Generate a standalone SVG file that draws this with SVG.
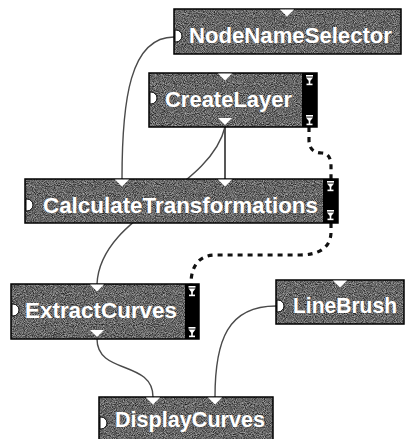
<svg xmlns="http://www.w3.org/2000/svg" width="406" height="439" viewBox="0 0 406 439">
  <defs>
    <!-- grainy grey fill for node bodies -->
    <filter id="grain" x="0" y="0" width="100%" height="100%" filterUnits="objectBoundingBox" color-interpolation-filters="sRGB">
      <feTurbulence type="fractalNoise" baseFrequency="1.1" numOctaves="1" seed="7" result="n"/>
      <feColorMatrix in="n" type="matrix" values="1 0 0 0 -0.1  1 0 0 0 -0.1  1 0 0 0 -0.1  0 0 0 0 1" result="g"/>
      <feComposite in="g" in2="SourceGraphic" operator="in"/>
    </filter>
    <!-- downward port triangle -->
    <path id="tri" d="M-7,0 L7,0 L0,7 Z"/>
    <!-- input port on the left edge -->
    <path id="port" d="M0,-6 h1 a6,6 0 0 1 0,12 h-1 z"/>
    <!-- output icon in the black side strip -->
    <g id="out">
      <rect x="-3.5" y="0" width="7" height="1.6"/>
      <path d="M-3.5,2.6 L3.5,2.6 L0,7 Z"/>
      <rect x="-0.8" y="6" width="1.6" height="3"/>
      <rect x="-3" y="8.6" width="6" height="1.6"/>
    </g>
  </defs>
  <style>
    .body { fill: #5e5e5e; filter: url(#grain); }
    .frame { fill: none; stroke: #000; stroke-width: 1.5; }
    .strip { fill: #000; }
    .tri, .port, .out { fill: #fff; }
    .port { stroke: #000; stroke-width: 1; }
    .label { font-family: "Liberation Sans", Arial, sans-serif; font-weight: bold; font-size: 22px; fill: #fff; }
    .wire { fill: none; stroke: #4a4a4a; stroke-width: 1.4; }
    .wire.solid { stroke: #111; }
    .dash { fill: none; stroke: #111; stroke-width: 3.2; stroke-dasharray: 5 5; }
  </style>

  <rect width="406" height="439" fill="#fff"/>

  <g id="connectors">
    <path class="wire" d="M174,37 C130,37 122,100 122,179"/>
    <path class="wire solid" d="M225,127 L225,179"/>
    <path class="wire" d="M225,127 C210,190 100,215 97,284"/>
    <path class="wire" d="M97,339 C97,375 153,360 153,397"/>
    <path class="wire" d="M276,306 C228,306 215,340 215,397"/>
    <path class="dash" d="M309,127 L309,140 C309,150 315,153 322,153 C328,153 331,158 331,166 L331,179"/>
    <path class="dash" d="M331,223 L331,232 C331,248 318,255 300,255 L215,255 C200,255 191,265 191,284"/>
  </g>

  <g id="NodeNameSelector">
    <rect class="body" x="174" y="9" width="227" height="45"/>
    <rect class="frame" x="174" y="9" width="227" height="45"/>
    <use href="#tri" class="tri" x="287" y="9.5"/>
    <use href="#port" class="port" x="175" y="36"/>
    <text class="label" x="189" y="43" textLength="203" lengthAdjust="spacingAndGlyphs">NodeNameSelector</text>
  </g>

  <g id="CreateLayer">
    <rect class="body" x="149" y="73" width="153" height="54"/>
    <rect class="strip" x="302" y="73" width="15" height="54"/>
    <rect class="frame" x="149" y="73" width="168" height="54"/>
    <use href="#tri" class="tri" x="225" y="73.5"/>
    <use href="#tri" class="tri" x="225" y="118"/>
    <use href="#port" class="port" x="150" y="98"/>
    <use href="#out" class="out" x="309.5" y="75"/>
    <use href="#out" class="out" x="309.5" y="115"/>
    <text class="label" x="165" y="107" textLength="127" lengthAdjust="spacingAndGlyphs">CreateLayer</text>
  </g>

  <g id="CalculateTransformations">
    <rect class="body" x="25" y="179" width="298" height="44"/>
    <rect class="strip" x="323" y="179" width="15" height="44"/>
    <rect class="frame" x="25" y="179" width="313" height="44"/>
    <use href="#tri" class="tri" x="122" y="179.5"/>
    <use href="#tri" class="tri" x="225" y="179.5"/>
    <use href="#port" class="port" x="26" y="205"/>
    <use href="#out" class="out" x="330.5" y="181"/>
    <use href="#out" class="out" x="330.5" y="210"/>
    <text class="label" x="43" y="213" textLength="275" lengthAdjust="spacingAndGlyphs">CalculateTransformations</text>
  </g>

  <g id="ExtractCurves">
    <rect class="body" x="11" y="284" width="174" height="55"/>
    <rect class="strip" x="185" y="284" width="14" height="55"/>
    <rect class="frame" x="11" y="284" width="188" height="55"/>
    <use href="#tri" class="tri" x="97" y="284.5"/>
    <use href="#tri" class="tri" x="97" y="330"/>
    <use href="#port" class="port" x="12" y="310"/>
    <use href="#out" class="out" x="192" y="286"/>
    <use href="#out" class="out" x="192" y="327"/>
    <text class="label" x="25" y="318" textLength="152" lengthAdjust="spacingAndGlyphs">ExtractCurves</text>
  </g>

  <g id="LineBrush">
    <rect class="body" x="276" y="280" width="128" height="44"/>
    <rect class="frame" x="276" y="280" width="128" height="44"/>
    <use href="#tri" class="tri" x="340" y="280.5"/>
    <use href="#port" class="port" x="277" y="306"/>
    <text class="label" x="293" y="313" textLength="104" lengthAdjust="spacingAndGlyphs">LineBrush</text>
  </g>

  <g id="DisplayCurves">
    <rect class="body" x="99" y="397" width="174" height="50"/>
    <rect class="frame" x="99" y="397" width="174" height="50"/>
    <use href="#tri" class="tri" x="153" y="397.5"/>
    <use href="#tri" class="tri" x="215" y="397.5"/>
    <use href="#port" class="port" x="100" y="423"/>
    <text class="label" x="115" y="427" textLength="150" lengthAdjust="spacingAndGlyphs">DisplayCurves</text>
  </g>
</svg>
